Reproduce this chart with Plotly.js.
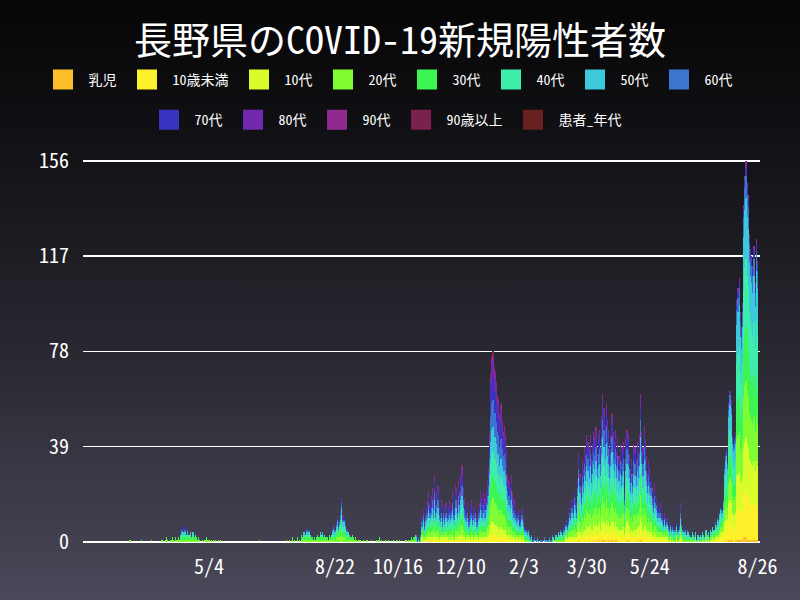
<!DOCTYPE html>
<html><head><meta charset="utf-8">
<script src="https://cdn.plot.ly/plotly-3.0.1.min.js"></script>
<style>
html,body{margin:0;padding:0;width:800px;height:600px;overflow:hidden;}
body{background:linear-gradient(to bottom,#060607 0%,#15151a 30%,#2a2932 60%,#4a4859 100%);}
#chart{width:800px;height:600px;}
</style></head><body><div id="chart"></div>
<script>
// ---- categories / colours ----
const categories = ['乳児','10歳未満','10代','20代','30代','40代','50代','60代','70代','80代','90代','90歳以上','患者_年代'];
const colors = ['#fcbf29','#fef12b','#d9fd2a','#80fc32','#3cf552','#3eeda9','#3ccadb','#3a76d0','#3a33bf','#7129ae','#8f2a8f','#7a2150','#6a1f20'];

// ---- daily new cases, starting 2020-02-25 ----
const feb2020 = [1,0,0,0,0];
const mar2020 = [0,0,0,0,0,1,0,0,0,0, 0,0,0,0,1,0,0,0,0,0, 0,0,0,1,0,0,1,2,1,0, 1];
const apr2020 = [1,2,1,0,2,1,2,1,3,5, 6,4,6,3,5,3,3,4,2,4, 2,3,2,1,2,1,0,1,0,1];
const may2020 = [1,2,1,1,0,1,0,1,0,1, 0,1,0,1,0,0,0,0,0,0, 0,0,0,0,0,0,0,0,0,0, 0];
const jun2020 = [0,0,0,0,0,0,0,0,0,0, 0,0,0,0,0,0,1,0,0,0, 0,0,0,0,0,0,0,0,0,0];
const jul2020 = [0,0,0,0,0,0,0,0,0,0, 1,0,1,0,0,2,0,1,0,2, 0,1,0,3,2,4,3,5,6,4, 5];
const aug2020 = [3,2,1,2,1,2,3,2,4,3, 4,2,3,2,2,1,3,2,3,6, 7,5,8,10,7,9,13,18,11,10, 8];
const sep2020 = [6,5,4,3,2,3,2,1,2,1, 0,1,1,0,0,1,0,0,1,0, 0,0,1,0,0,0,1,0,1,2];
const oct2020 = [0,1,0,0,1,0,0,1,0,0, 0,1,0,0,1,0,1,0,0,0, 0,0,1,0,1,0,1,2,1,2, 3];
const nov2020 = [3,1,2,1,3,10,13,8,12,14, 17,21,15,19,22,18,28,16,20,23, 14,12,17,10,15,11,16,12,14,17];
const dec2020 = [13,15,21,14,24,22,17,26,20,28, 32,22,18,14,12,16,10,13,17,11, 14,12,15,10,13,16,21,18,15,20, 18];
const jan2021 = [21,25,30,45,69,76,78,72,70,66, 60,59,53,57,50,46,48,44,38,28, 26,22,28,20,18,17,13,12,13,9, 10];
const feb2021 = [13,14,10,6,5,4,5,3,2,3, 1,2,0,1,2,1,0,1,1,0, 2,1,0,1,2,1,1,3];
const mar2021 = [2,1,3,2,4,3,5,4,3,6, 8,9,7,10,14,12,17,15,21,18, 16,25,36,28,22,33,30,39,35,44, 41];
const apr2021 = [38,44,34,40,45,43,47,36,44,46, 39,52,61,55,48,57,50,46,38,44, 53,45,41,46,37,43,35,40,33,39];
const may2021 = [41,20,42,46,44,36,30,34,28,40, 39,33,41,37,44,61,45,39,47,42, 35,28,33,30,25,22,17,24,19,18, 15];
const jun2021 = [14,16,12,11,9,12,8,10,7,6, 8,5,7,6,5,8,4,6,7,16, 9,5,4,6,3,5,4,3,2,4];
const jul2021 = [3,2,4,1,3,2,3,2,4,3, 2,5,3,4,2,5,4,6,5,8, 7,10,9,12,14,13,17,31,36,38, 33];
const aug2021 = [57,62,58,44,40,42,45,99,104,108, 94,88,98,138,150,156,147,142,126,120, 117,113,121,106,124,115];

const periodStarts = ['2020-02-25','2020-11-01','2021-03-01','2021-07-01'];
const share2020   = [0,1,3,20,18,16,15,13,8,4,1,1,0];
const shareWinter = [0,4,6,12,12,13,13,14,12,9,3,2,0];
const shareSpring = [1,6,8,14,13,14,14,12,9,6,2,1,0];
const shareSummer = [1,12,14,15,14,18,16,6,2,1,1,0,0];

// ---- axis ticks ----
const xTickDates = ['2020-05-04','2020-08-22','2020-10-16','2020-12-10','2021-02-03','2021-03-30','2021-05-24','2021-08-26'];
const xTickText  = ['5/4','8/22','10/16','12/10','2/3','3/30','5/24','8/26'];
const yTicks = [0,39,78,117,156];

// ---- build ----
const totals = [].concat(feb2020,mar2020,apr2020,may2020,jun2020,jul2020,aug2020,sep2020,oct2020,nov2020,dec2020,
  jan2021,feb2021,mar2021,apr2021,may2021,jun2021,jul2021,aug2021);
const t0 = Date.UTC(2020,1,25);
const dates = totals.map((_,i)=>new Date(t0+i*86400000).toISOString().slice(0,10));
const shares = [share2020,shareWinter,shareSpring,shareSummer];
function splitTotal(T, sh){
  const raw = sh.map(s=>T*s/100);
  const base = raw.map(Math.floor);
  let rest = T - base.reduce((a,b)=>a+b,0);
  const order = raw.map((r,i)=>[r-Math.floor(r),sh[i],i]).sort((a,b)=>(b[0]-a[0])||(b[1]-a[1]));
  for(let j=0;j<rest;j++) base[order[j][2]]++;
  return base;
}
const series = categories.map(()=>[]);
totals.forEach((T,i)=>{
  let p=0; for(let k=0;k<periodStarts.length;k++){ if(dates[i]>=periodStarts[k]) p=k; }
  const parts = splitTotal(T, shares[p]);
  parts.forEach((v,k)=>series[k].push(v));
});

const F = '"Noto Sans Mono CJK JP","Noto Sans CJK JP","DejaVu Sans Mono",monospace';
const traces = categories.map((name,k)=>({
  type:'bar', x:dates, y:series[k], name:name,
  marker:{color:colors[k], line:{width:0}},
  legend: k<8 ? 'legend' : 'legend2', hoverinfo:'skip'
}));
const legendBase = {orientation:'h', xanchor:'left', yanchor:'middle', font:{family:F,size:14,color:'#ffffff'},
  bgcolor:'rgba(0,0,0,0)', traceorder:'normal', itemwidth:41};
const layout = {
  width:800, height:600, paper_bgcolor:'rgba(0,0,0,0)', plot_bgcolor:'rgba(0,0,0,0)',
  margin:{l:83,r:40,t:156,b:58},
  barmode:'stack', bargap:0,
  font:{family:F,color:'#ffffff'},
  title:{text:'長野県のCOVID-19新規陽性者数', font:{family:F,size:38,color:'#ffffff'}, x:0.5, xref:'container', y:0.933, yref:'container', yanchor:'middle'},
  xaxis:{type:'date', range:['2020-01-14 23:00','2021-08-28 05:00'], tickmode:'array', tickvals:xTickDates, ticktext:xTickText,
    tickfont:{family:F,size:20,color:'#ffffff'}, showgrid:false, zeroline:false, showline:false, ticks:'', ticklabelstandoff:11},
  yaxis:{range:[0,158], tickmode:'array', tickvals:yTicks, ticktext:yTicks.map(String), tickfont:{family:F,size:20,color:'#ffffff'},
    showgrid:true, gridcolor:'#ffffff', gridwidth:1.4, zeroline:true, zerolinecolor:'#ffffff', zerolinewidth:2,
    ticks:'', showline:false, ticklabelstandoff:13},
  legend:Object.assign({}, legendBase, {x:-0.0672, y:1.197}),
  legend2:Object.assign({}, legendBase, {x:0.0894, y:1.093}),
  showlegend:true
};
Plotly.newPlot('chart', traces, layout, {displayModeBar:false, staticPlot:true}).then(gd=>{
  gd.querySelectorAll('.legendpoints path').forEach(p=>p.setAttribute('d','M10,10H-10V-10H10Z'));
});
</script></body></html>
